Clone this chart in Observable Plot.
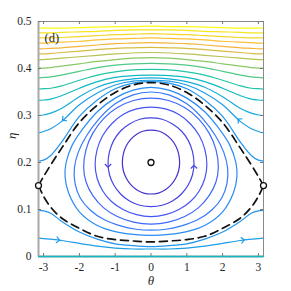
<!DOCTYPE html>
<html><head><meta charset="utf-8">
<script src="https://cdn.jsdelivr.net/npm/d3@7"></script>
<script src="https://cdn.jsdelivr.net/npm/@observablehq/plot@0.6"></script>
<style>body{margin:0;background:#fff}</style>
</head><body><div id="chart"></div>
<script>
const PI = Math.PI;
const xTicks = [-3, -2, -1, 0, 1, 2, 3];
const yTicks = [0, 0.1, 0.2, 0.3, 0.4, 0.5];
const panelLabel = "(d)";

// right half samples (mirrored to the left)
const thetaHalf = [0, 0.5, 1.0, 1.5, 2.0, 2.5, 2.8, 3.0, PI];

// open curves above the separatrix
const upperLevels = [5.8, 6.3, 7.2, 8.3, 9.4, 10.6, 11.9, 13.0, 14.0, 15.1, 16.3, 17.5, 18.8, 20];
const upperEta = [
  [0.372, 0.369, 0.357, 0.333, 0.298, 0.243, 0.215, 0.205, 0.203],
  [0.375, 0.373, 0.365, 0.348, 0.323, 0.287, 0.272, 0.266, 0.263],
  [0.380, 0.378, 0.372, 0.360, 0.340, 0.315, 0.305, 0.301, 0.300],
  [0.386, 0.385, 0.381, 0.372, 0.358, 0.342, 0.335, 0.333, 0.332],
  [0.398, 0.397, 0.393, 0.386, 0.375, 0.363, 0.358, 0.357, 0.356],
  [0.411, 0.410, 0.407, 0.402, 0.394, 0.386, 0.382, 0.381, 0.380],
  [0.423, 0.422, 0.419, 0.415, 0.410, 0.405, 0.402, 0.401, 0.401],
  [0.434, 0.433, 0.431, 0.428, 0.425, 0.422, 0.420, 0.419, 0.419],
  [0.445, 0.444, 0.443, 0.440, 0.437, 0.434, 0.432, 0.431, 0.431],
  [0.455, 0.454, 0.453, 0.450, 0.447, 0.444, 0.443, 0.442, 0.442],
  [0.465, 0.464, 0.463, 0.461, 0.458, 0.456, 0.455, 0.454, 0.454],
  [0.474, 0.473, 0.472, 0.470, 0.468, 0.466, 0.465, 0.465, 0.465],
  [0.482, 0.482, 0.481, 0.479, 0.478, 0.477, 0.476, 0.476, 0.476],
  [0.490, 0.489, 0.489, 0.488, 0.487, 0.486, 0.486, 0.486, 0.486]
];

// open curves below the separatrix
const lowerLevels = [5.8, 6.3, 8.3];
const lowerEta = [
  [0.021, 0.023, 0.027, 0.037, 0.052, 0.075, 0.092, 0.097, 0.098],
  [0.016, 0.016, 0.018, 0.022, 0.028, 0.034, 0.037, 0.038, 0.039],
  [0.000, 0.000, 0.000, 0.000, 0.000, 0.000, 0.000, 0.000, 0.000]
];

// separatrix branches
const sepUpper = [0.370, 0.365, 0.349, 0.322, 0.285, 0.230, 0.195, 0.170, 0.151];
const sepLower = [0.031, 0.033, 0.036, 0.043, 0.060, 0.082, 0.105, 0.128, 0.151];

// closed orbits: right half, top (theta=0) -> bottom (theta=0)
const orbitLevels = [1.0, 1.8, 2.6, 3.5, 4.4, 5.3];
const orbits = [
  [[0,0.269],[0.207,0.267],[0.400,0.260],[0.566,0.249],[0.693,0.235],[0.773,0.218],[0.800,0.200],
   [0.773,0.183],[0.693,0.167],[0.566,0.153],[0.400,0.142],[0.207,0.135],[0,0.133]],
  [[0,0.295],[0.311,0.292],[0.600,0.282],[0.849,0.267],[1.039,0.247],[1.159,0.223],[1.200,0.198],
   [1.159,0.174],[1.039,0.152],[0.849,0.133],[0.600,0.118],[0.311,0.109],[0,0.106]],
  [[0,0.318],[0.404,0.314],[0.780,0.302],[1.103,0.282],[1.351,0.257],[1.507,0.227],[1.560,0.195],
   [1.507,0.167],[1.351,0.140],[1.103,0.117],[0.780,0.100],[0.404,0.089],[0,0.085]],
  [[0,0.337],[0.487,0.332],[0.940,0.317],[1.329,0.293],[1.628,0.262],[1.816,0.227],[1.880,0.190],
   [1.816,0.159],[1.628,0.130],[1.329,0.104],[0.940,0.085],[0.487,0.073],[0,0.069]],
  [[0,0.350],[0.50,0.344],[1.00,0.325],[1.45,0.293],[1.80,0.257],[2.03,0.222],[2.14,0.188],
   [2.12,0.155],[1.98,0.125],[1.70,0.099],[1.30,0.078],[0.85,0.065],[0.42,0.058],[0,0.056]],
  [[0,0.360],[0.50,0.354],[1.00,0.337],[1.50,0.308],[1.90,0.272],[2.20,0.237],[2.37,0.200],
   [2.40,0.170],[2.30,0.135],[2.00,0.095],[1.50,0.066],[1.00,0.053],[0.50,0.047],[0,0.045]]
];

// fixed points
const fixedTheta = [0, -PI, PI];
const fixedEta = [0.2, 0.151, 0.151];

// flow arrows
const arrowTheta = [-1.20, 1.20, -2.45, 2.45, -2.58, 2.58];
const arrowEta = [0.192, 0.192, 0.291, 0.291, 0.035, 0.035];
const arrowDTheta = [0, 0, -1, -1, 1, 1];
const arrowDEta = [-1, 1, -0.064, 0.064, -0.010, 0.010];
const arrowLevel = [1.8, 1.8, 6.3, 6.3, 6.3, 6.3];

// parula colormap stops
const parula = ["#3e26a8","#4538d6","#4852f4","#3b6efd","#2d87f7","#1c9de9","#12b1d6","#10bfb6",
  "#37c897","#6ccb73","#a5c55a","#d3bd45","#f3b33c","#fcc034","#f5d52a","#f4e61e","#f9fb14"];

const W = 291, H = 291, mL = 38, mR = 28, mT = 21, mB = 35;
const plotW = W - mL - mR, plotH = H - mT - mB;

function mirror(etas) {
  const left = thetaHalf.slice(1).map((t, i) => ({theta: -t, eta: etas[i + 1]})).reverse();
  const right = thetaHalf.map((t, i) => ({theta: t, eta: etas[i]}));
  return left.concat(right);
}

const openRows = [];
upperEta.forEach((e, i) => mirror(e).forEach(p => openRows.push({...p, id: "u" + i, level: upperLevels[i]})));
lowerEta.slice(0, 2).forEach((e, i) => mirror(e).forEach(p => openRows.push({...p, id: "l" + i, level: lowerLevels[i]})));
const baseRows = mirror(lowerEta[2]).map(p => ({...p, level: lowerLevels[2]}));

const sepRows = [];
mirror(sepUpper).forEach(p => sepRows.push({...p, id: "su"}));
mirror(sepLower).forEach(p => sepRows.push({...p, id: "sl"}));

const orbitRows = [];
orbits.forEach((o, i) => {
  const right = o.map(([t, e]) => ({theta: t, eta: e}));
  const left = o.slice(1, -1).map(([t, e]) => ({theta: -t, eta: e})).reverse();
  right.concat(left).forEach(p => orbitRows.push({...p, id: "o" + i, level: orbitLevels[i]}));
});

const fixedRows = fixedTheta.map((t, i) => ({theta: t, eta: fixedEta[i]}));

const kx = plotW / (2 * PI), ky = plotH / 0.5;
const arrowRows = arrowTheta.map((t, i) => ({
  theta: t, eta: arrowEta[i], level: arrowLevel[i],
  angle: Math.atan2(-arrowDEta[i] * ky, arrowDTheta[i] * kx) * 180 / PI
}));

const chevron = {
  draw(context, size) {
    const r = Math.sqrt(size) / 2;
    context.moveTo(-r * 0.7, -r);
    context.lineTo(r * 0.3, 0);
    context.lineTo(-r * 0.7, r);
  }
};

const serif = "'Liberation Serif', 'DejaVu Serif', serif";

const chart = Plot.plot({
  width: W, height: H,
  marginLeft: mL, marginRight: mR, marginTop: mT, marginBottom: mB,
  style: {fontFamily: serif, fontSize: "11.5px", background: "#fff", color: "#262626"},
  x: {domain: [-PI, PI]},
  y: {domain: [0, 0.5]},
  color: {type: "linear", domain: parula.map((c, i) => i * 20 / (parula.length - 1)), range: parula},
  marks: [
    Plot.line(openRows, {x: "theta", y: "eta", z: "id", stroke: "level", strokeWidth: 1.2, curve: "catmull-rom"}),
    Plot.line(orbitRows, {x: "theta", y: "eta", z: "id", stroke: "level", strokeWidth: 1.2, curve: "catmull-rom-closed"}),
    Plot.line(sepRows, {x: "theta", y: "eta", z: "id", stroke: "#111", strokeWidth: 1.7, strokeDasharray: "8,5", curve: "catmull-rom"}),
    Plot.dot(arrowRows, {x: "theta", y: "eta", stroke: "level", fill: "none", symbol: chevron, r: 3.6, rotate: "angle", strokeWidth: 1.2}),
    Plot.frame({stroke: "#8a8a8a", strokeWidth: 1}),
    Plot.ruleX([-PI], {stroke: "#a8a8a8", strokeWidth: 2}),
    Plot.ruleY([0], {stroke: "#a8a8a8", strokeWidth: 2}),
    Plot.tickX(xTicks, {x: d => d, insetTop: plotH - 3, stroke: "#777"}),
    Plot.tickX(xTicks, {x: d => d, insetBottom: plotH - 3, stroke: "#777"}),
    Plot.tickY(yTicks, {y: d => d, insetRight: plotW - 3, stroke: "#777"}),
    Plot.tickY(yTicks, {y: d => d, insetLeft: plotW - 3, stroke: "#777"}),
    Plot.line(baseRows, {x: "theta", y: "eta", stroke: "level", strokeWidth: 1.4}),
    Plot.dot(fixedRows, {x: "theta", y: "eta", r: 3, stroke: "#111", fill: "#fff", strokeWidth: 1.3}),
    Plot.axisX({ticks: xTicks, tickSize: 0, tickPadding: 6, tickFormat: d => String(d), label: null, fontSize: 11.5}),
    Plot.axisY({ticks: yTicks, tickSize: 0, tickPadding: 7, tickFormat: d => String(d), label: null, fontSize: 11.5}),
    Plot.text([panelLabel], {frameAnchor: "top-left", dx: 6, dy: 12, text: d => d, fontSize: 12.5, textAnchor: "start"}),
    Plot.text(["θ"], {frameAnchor: "bottom", dy: 28, text: d => d, fontSize: 13, fontStyle: "italic"}),
    Plot.text(["η"], {frameAnchor: "left", dx: -27, text: d => d, fontSize: 13, fontStyle: "italic", rotate: -90})
  ]
});
document.getElementById("chart").appendChild(chart);
</script>
</body></html>
